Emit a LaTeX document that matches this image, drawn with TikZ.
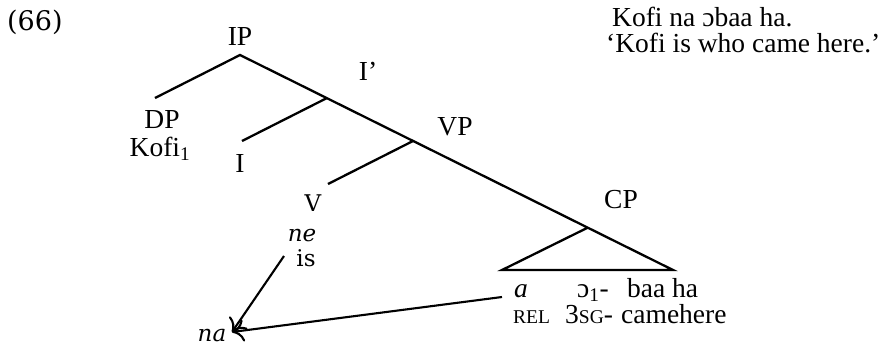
\documentclass[tikz,border=0pt]{standalone}
\usepackage{fontspec}
\usetikzlibrary{arrows.meta}
\setmainfont{Liberation Serif}
\newfontfamily\charis{DejaVu Serif}
\begin{document}
\begin{tikzpicture}[x=1pt,y=-1pt,
  lbl/.style={inner sep=0pt,font=\fontsize{27.5}{31}\selectfont},
  chl/.style={inner sep=0pt,font=\charis\fontsize{23}{27}\selectfont},
  flat/.style={text depth=0pt},
  branch/.style={line width=2.3pt},
  arr/.style={line width=2.1pt,-{To[length=12pt,width=22pt,line width=2.1pt]}}]
\useasboundingbox (0,0) rectangle (889,354);
% tree points
\coordinate (ip) at (240,55);
\coordinate (dpend) at (155,98);
\coordinate (ibar) at (327,98);
\coordinate (iend) at (242,141);
\coordinate (vp) at (413,141);
\coordinate (vend) at (328,184);
\coordinate (cp) at (587,228);
\coordinate (cpl) at (502,270);
\coordinate (cpr) at (673,270);
\draw[branch] (dpend) -- (ip) -- (cpr) -- (cpl) -- (cp);
\draw[branch] (ibar) -- (iend);
\draw[branch] (vp) -- (vend);
% labels
\node[chl,anchor=base west,font=\charis\fontsize{27}{31}\selectfont] (ex) at (7,30) {(66)};
\node[lbl] (IP) at (240,36) {IP};
\node[lbl] (Ib) at (368,71) {I’};
\node[lbl,anchor=base] (DP) at (162,128) {DP};
\node[lbl,anchor=base] (Kofi) at (160,156) {Kofi\textsubscript{1}};
\node[lbl] (I) at (240,163) {I};
\node[lbl] (VP) at (455,127) {VP};
\node[chl] (V) at (313,203) {V};
\node[chl,anchor=base] (ne) at (302,241) {\itshape ne};
\node[chl,anchor=base] (is) at (306,266) {is};
\node[lbl] (CP) at (621,200) {CP};
\node[lbl,anchor=base west,flat] (a) at (514,297) {\itshape a};
\node[lbl,anchor=base west] (o1) at (577,297) {ɔ\textsubscript{1}-};
\node[lbl,anchor=base west,flat] (baa) at (627,297) {baa};
\node[lbl,anchor=base west,flat] (ha) at (672,297) {ha};
\node[lbl,anchor=base west] (rel) at (513,323) {{\fontsize{19.5}{23}\selectfont REL}};
\node[lbl,anchor=base west] (sg) at (565,323) {3{\fontsize{19.5}{23}\selectfont SG}-};
\node[lbl,anchor=base west] (came) at (621,323) {camehere};
\node[chl,anchor=base] (na) at (212,341) {\itshape na};
\node[lbl,anchor=base west] (ex1) at (612,26) {Kofi na ɔbaa ha.};
\node[lbl,anchor=base west] (ex2) at (606,52) {‘Kofi is who came here.’};
% arrows
\coordinate (nestart) at (284,256);
\coordinate (astart) at (502,297);
\coordinate (natip) at (232,332);
\draw[arr] (nestart) -- (natip);
\draw[arr] (astart) -- (natip);
\end{tikzpicture}
\end{document}
